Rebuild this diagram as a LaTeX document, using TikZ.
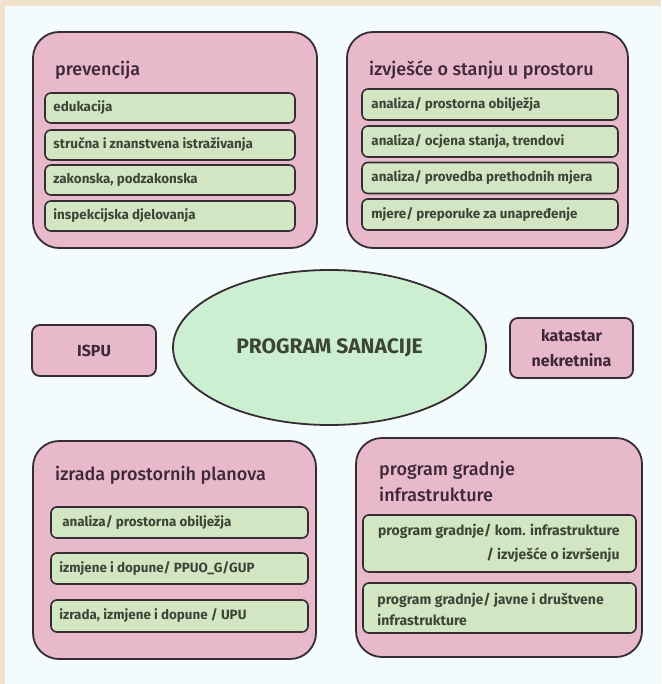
\documentclass[tikz,border=0pt]{standalone}
\usepackage{fontspec}
\setmainfont{Fira Sans}
\newfontfamily\medfont{Fira Sans Medium}
\usetikzlibrary{shapes.geometric}
\definecolor{beige}{HTML}{F1E2CD}
\definecolor{paper}{HTML}{F3FBFC}
\definecolor{pinkfill}{HTML}{E7B9CA}
\definecolor{greenfill}{HTML}{D3E6C3}
\definecolor{mint}{HTML}{CDEFD1}
\definecolor{edge}{HTML}{352D33}
\definecolor{plum}{HTML}{3E2836}
\definecolor{greentext}{HTML}{3C4536}
\tikzset{
  container/.style={draw=edge, line width=1.8pt, fill=pinkfill, rounded corners=26pt, inner sep=0pt},
  item/.style={draw=edge, line width=1.6pt, fill=greenfill, rounded corners=6pt, inner sep=0pt, minimum height=30pt},
  itemtext/.style={font=\bfseries\fontsize{13.4}{16}\selectfont, text=greentext, anchor=west, inner sep=0pt},
  title/.style={font=\medfont\fontsize{18}{26}\selectfont, text=plum, anchor=west, inner sep=0pt},
  smallbox/.style={draw=edge, line width=1.8pt, fill=pinkfill, rounded corners=8pt, inner sep=0pt, font=\bfseries\fontsize{16}{25}\selectfont, text=plum, align=center},
}
\begin{document}
\begin{tikzpicture}[x=1pt,y=-1pt]
\useasboundingbox (0,0) rectangle (661,684);
\fill[beige] (0,0) rectangle (661,684);
\fill[paper] (5,6) rectangle (661,684);

% top-left
\node[container, minimum width=284pt, minimum height=216pt] (prev) at (175,140) {};
\node[title] (prevT) at (55,70) {prevencija};
\node[item, minimum width=250pt] (p1) at (170,108) {};
\node[item, minimum width=250pt] (p2) at (170,145) {};
\node[item, minimum width=250pt] (p3) at (170,180) {};
\node[item, minimum width=250pt] (p4) at (170,216) {};
\node[itemtext] at ([xshift=9pt]p1.west) {edukacija};
\node[itemtext] at ([xshift=9pt]p2.west) {stručna i znanstvena istraživanja};
\node[itemtext] at ([xshift=9pt]p3.west) {zakonska, podzakonska};
\node[itemtext] at ([xshift=9pt]p4.west) {inspekcijska djelovanja};

% top-right
\node[container, minimum width=281pt, minimum height=216pt] (izv) at (487.5,140) {};
\node[title] (izvT) at (369,70) {izvješće o stanju u prostoru};
\node[item, minimum width=256pt, minimum height=31pt] (i1) at (490,104.5) {};
\node[item, minimum width=256pt, minimum height=31pt] (i2) at (490,141.5) {};
\node[item, minimum width=256pt, minimum height=31pt] (i3) at (490,178) {};
\node[item, minimum width=256pt, minimum height=31pt] (i4) at (490,214.5) {};
\node[itemtext] at ([xshift=10pt]i1.west) {analiza/ prostorna obilježja};
\node[itemtext] at ([xshift=10pt]i2.west) {analiza/ ocjena stanja, trendovi};
\node[itemtext] at ([xshift=10pt]i3.west) {analiza/ provedba prethodnih mjera};
\node[itemtext] at ([xshift=10pt]i4.west) {mjere/ preporuke za unapređenje};

% middle
\node[smallbox, minimum width=124pt, minimum height=51pt] (ispu) at (94,350.5) {ISPU};
\node[ellipse, draw=edge, line width=1.8pt, fill=mint, minimum width=313pt, minimum height=155pt, inner sep=0pt,
      font=\bfseries\fontsize{21}{24}\selectfont, text=greentext] (prog) at (329.5,347.5) {PROGRAM SANACIJE};
\node[smallbox, minimum width=123pt, minimum height=60pt] (kat) at (571.5,348) {katastar\\nekretnina};

% bottom-left
\node[container, minimum width=283pt, minimum height=218pt] (izr) at (174.5,550) {};
\node[title] (izrT) at (55,475) {izrada prostornih planova};
\node[item, minimum width=257pt, minimum height=31pt] (z1) at (179.5,522.5) {};
\node[item, minimum width=257pt, minimum height=31pt] (z2) at (179.5,568.5) {};
\node[item, minimum width=257pt, minimum height=32pt] (z3) at (179.5,616) {};
\node[itemtext] at ([xshift=12pt]z1.west) {analiza/ prostorna obilježja};
\node[itemtext] at ([xshift=9pt]z2.west) {izmjene i dopune/ PPUO\_G/GUP};
\node[itemtext] at ([xshift=9pt]z3.west) {izrada, izmjene i dopune / UPU};

% bottom-right
\node[container, minimum width=286pt, minimum height=219pt] (grad) at (499,547.5) {};
\node[title, align=left, anchor=north west] (gradT) at (379,461) {program gradnje\\infrastrukture};
\node[item, minimum width=273pt, minimum height=57pt] (g1) at (499.5,543.5) {};
\node[item, minimum width=273pt, minimum height=50pt] (g2) at (499.5,608) {};
\node[font=\bfseries\fontsize{14}{24}\selectfont, text=greentext, align=right, anchor=east, inner sep=0pt] at ([xshift=-17pt]g1.east) {program gradnje/ kom. infrastrukture\\/ izvješće o izvršenju};
\node[font=\bfseries\fontsize{14}{21}\selectfont, text=greentext, align=left, anchor=west, inner sep=0pt] at ([xshift=15pt,yshift=-1pt]g2.west) {program gradnje/ javne i društvene\\infrastrukture};
\end{tikzpicture}
\end{document}
